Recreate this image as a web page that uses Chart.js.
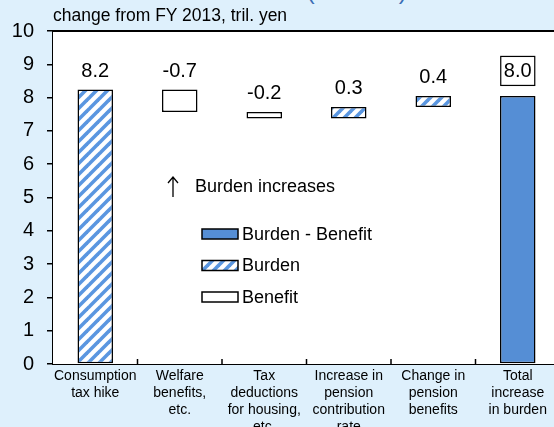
<!DOCTYPE html>
<html>
<head>
<meta charset="utf-8">
<script src="https://cdn.jsdelivr.net/npm/chart.js@4"></script>
<style>
html, body { margin:0; padding:0; background:#def0fc; overflow:hidden; width:554px; height:427px; }
#wrap { position:absolute; left:0; top:0; width:562px; height:440px; }
#ttl { position:absolute; left:104px; top:-21px; font:24px 'Liberation Sans', Arial, sans-serif; line-height:24px; color:#3a6cb4; white-space:nowrap; }
#sub { position:absolute; left:53px; top:6px; font:17.5px 'Liberation Sans', Arial, sans-serif; line-height:19px; color:#000; white-space:nowrap; }
</style>
</head>
<body>
<div id="ttl">Household burden (FY2014)</div>
<div id="wrap"><canvas id="chartUI"></canvas></div>
<div id="sub">change from FY 2013, tril. yen</div>
<script>
// podaci procitani sa slike
var categories = [
	["Consumption", "tax hike"],
	["Welfare", "benefits,", "etc."],
	["Tax", "deductions", "for housing,", "etc."],
	["Increase in", "pension", "contribution", "rate"],
	["Change in", "pension", "benefits"],
	["Total", "increase", "in burden"]
];
var totalBars   = [null, null, null, null, null, [0, 8.05]];
var burdenBars  = [[0, 8.24], null, null, [7.37, 7.72], [7.72, 8.05], null];
var benefitBars = [null, [7.57, 8.24], [7.37, 7.57], null, null, null];
var valueLabels = ["8.2", "-0.7", "-0.2", "0.3", "0.4", "8.0"];
var yTicks = [0, 1, 2, 3, 4, 5, 6, 7, 8, 9, 10];

var FONT = "'Liberation Sans', Arial, sans-serif";
var BLUE = "#558ed5";
var STRIPE = "#5a96e0";

var makeHatch = function() {
	var s = 11;
	var c = document.createElement("canvas");
	c.width = s; c.height = s;
	var g = c.getContext("2d");
	g.fillStyle = "#fff";
	g.fillRect(0, 0, s, s);
	g.strokeStyle = STRIPE;
	g.lineWidth = 3.6;
	[0, s, 2 * s].forEach(function(k) {
		g.beginPath();
		g.moveTo(k + 2, -2);
		g.lineTo(-2, k + 2);
		g.stroke();
	});
	return g.createPattern(c, "repeat");
};
var hatch = makeHatch();

// pozadina, okvir, oznake, legenda
var decorPlugin = {
	id: "decor",
	beforeDatasetsDraw: function(chart) {
		var a = chart.chartArea, c = chart.ctx;
		c.save();
		c.fillStyle = "#fff";
		c.fillRect(a.left, a.top, a.right - a.left, a.bottom - a.top);
		c.restore();
	},
	afterDraw: function(chart) {
		var a = chart.chartArea, c = chart.ctx;
		var xs = chart.scales.x;
		c.save();
		// gornja ivica
		c.strokeStyle = "#000";
		c.lineWidth = 2;
		c.beginPath();
		c.moveTo(a.left, a.top);
		c.lineTo(a.right + 2, a.top);
		c.stroke();
		// unutrasnje crtice na x osi
		c.lineWidth = 1.5;
		for (var i = 1; i < categories.length; i++) {
			var bx = (xs.getPixelForValue(i - 1) + xs.getPixelForValue(i)) / 2;
			c.beginPath();
			c.moveTo(bx, a.bottom);
			c.lineTo(bx, a.bottom - 5);
			c.stroke();
		}
		// vrednosti iznad stubova
		c.font = "20px " + FONT;
		c.fillStyle = "#000";
		c.textAlign = "center";
		c.textBaseline = "middle";
		for (var j = 0; j < valueLabels.length; j++) {
			var el = null;
			chart.data.datasets.forEach(function(ds, d) {
				if (ds.data[j]) el = chart.getDatasetMeta(d).data[j];
			});
			if (!el) continue;
			var top = Math.min(el.y, el.base);
			if (j === valueLabels.length - 1) {
				var ty = top - 25;
				c.fillStyle = "#fff";
				c.fillRect(el.x - 17, ty - 14.5, 34, 29);
				c.strokeStyle = "#000";
				c.lineWidth = 1.2;
				c.strokeRect(el.x - 17, ty - 14.5, 34, 29);
				c.fillStyle = "#000";
				c.fillText(valueLabels[j], el.x, ty + 1);
			} else {
				c.fillText(valueLabels[j], el.x, top - 18.5);
			}
		}
		// strelica i legenda
		c.strokeStyle = "#000";
		c.lineWidth = 1.3;
		c.beginPath();
		c.moveTo(173, 197); c.lineTo(173, 177);
		c.moveTo(168, 183); c.lineTo(173, 177); c.lineTo(178, 183);
		c.stroke();
		c.font = "18px " + FONT;
		c.textAlign = "left";
		c.fillText("Burden increases", 195, 187);
		var items = [["Burden - Benefit", BLUE], ["Burden", hatch], ["Benefit", "#fff"]];
		items.forEach(function(it, k) {
			var cy = 234 + k * 31.5;
			c.fillStyle = it[1];
			c.fillRect(202, cy - 5, 36, 10);
			c.lineWidth = 1.5;
			c.strokeStyle = "#000";
			c.strokeRect(202, cy - 5, 36, 10);
			c.fillStyle = "#000";
			c.fillText(it[0], 242, cy + 1);
		});
		c.restore();
	}
};

var barStyle = {
	borderColor: "#000",
	borderWidth: 1.5,
	borderSkipped: false,
	grouped: false,
	barPercentage: 0.42,
	categoryPercentage: 1
};

var chartConfig = {
	type: "bar",
	data: {
		labels: categories,
		datasets: [
			Object.assign({ label: "Burden - Benefit", data: totalBars, backgroundColor: BLUE }, barStyle),
			Object.assign({ label: "Burden", data: burdenBars, backgroundColor: hatch }, barStyle),
			Object.assign({ label: "Benefit", data: benefitBars, backgroundColor: "#fff" }, barStyle)
		]
	},
	options: {
		responsive: true,
		maintainAspectRatio: false,
		animation: false,
		layout: { padding: { top: 31, left: 0, right: 2, bottom: 0 } },
		plugins: { legend: { display: false }, tooltip: { enabled: false } },
		scales: {
			x: {
				ticks: { font: { family: FONT, size: 14 }, color: "#000", padding: 4, maxRotation: 0, autoSkip: false },
				grid: { drawOnChartArea: false, drawTicks: false },
				border: { color: "#000", width: 2 },
				afterFit: function(s) { s.height = 76; }
			},
			y: {
				min: 0, max: 10,
				afterBuildTicks: function(s) { s.ticks = yTicks.map(function(v) { return { value: v }; }); },
				ticks: { font: { family: FONT, size: 20 }, color: "#000", padding: 13 },
				grid: { drawOnChartArea: false, tickLength: 6, color: "#000", lineWidth: 1.5 },
				border: { color: "#000", width: 2 },
				afterFit: function(s) { s.width = 53; }
			}
		}
	},
	plugins: [decorPlugin]
};

new Chart(document.getElementById("chartUI"), chartConfig);
</script>
</body>
</html>
